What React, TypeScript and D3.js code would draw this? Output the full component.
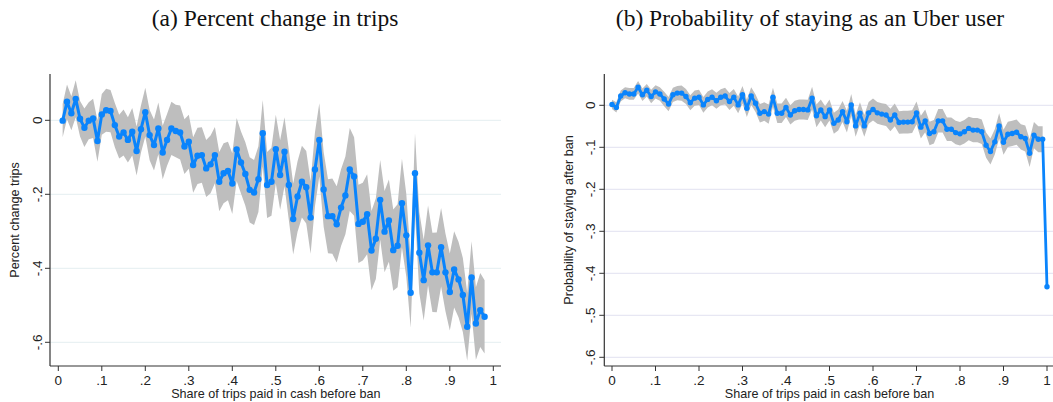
import React from "react";
import * as d3 from "d3";

// ---------- Panel (a): percent change in trips ----------
const tripsX: number[] = Array.from({ length: 98 }, (_, i) => +((i + 1) / 100).toFixed(2));
const tripsEst: number[] = [
  -0.001, 0.050, 0.019, 0.058, 0.004, -0.020, -0.001, 0.005, -0.056, 0.016,
  0.027, 0.025, -0.013, -0.044, -0.033, -0.053, -0.031, -0.083, -0.024, 0.022,
  -0.040, -0.067, -0.022, -0.087, -0.053, -0.022, -0.029, -0.033, -0.071, -0.058,
  -0.121, -0.096, -0.094, -0.130, -0.119, -0.094, -0.166, -0.143, -0.137, -0.171,
  -0.079, -0.114, -0.145, -0.188, -0.195, -0.159, -0.035, -0.175, -0.166, -0.078,
  -0.148, -0.085, -0.175, -0.267, -0.206, -0.166, -0.181, -0.263, -0.133, -0.053,
  -0.187, -0.259, -0.259, -0.281, -0.236, -0.203, -0.133, -0.152, -0.280, -0.274,
  -0.254, -0.352, -0.320, -0.215, -0.301, -0.271, -0.351, -0.339, -0.224, -0.311,
  -0.466, -0.143, -0.358, -0.432, -0.338, -0.411, -0.411, -0.343, -0.411, -0.464,
  -0.403, -0.430, -0.472, -0.558, -0.425, -0.549, -0.513, -0.531,
];
const tripsHalfWidth: number[] = [
  0.045, 0.047, 0.046, 0.050, 0.048, 0.052, 0.050, 0.053, 0.056, 0.055,
  0.058, 0.057, 0.060, 0.059, 0.062, 0.061, 0.064, 0.066, 0.064, 0.066,
  0.068, 0.069, 0.070, 0.072, 0.070, 0.072, 0.071, 0.073, 0.074, 0.073,
  0.075, 0.076, 0.075, 0.077, 0.078, 0.076, 0.080, 0.081, 0.079, 0.082,
  0.085, 0.084, 0.086, 0.088, 0.088, 0.089, 0.090, 0.089, 0.092, 0.093,
  0.094, 0.093, 0.095, 0.096, 0.095, 0.097, 0.098, 0.098, 0.100, 0.099,
  0.101, 0.100, 0.102, 0.103, 0.104, 0.105, 0.112, 0.106, 0.106, 0.105,
  0.108, 0.107, 0.109, 0.108, 0.110, 0.111, 0.110, 0.112, 0.120, 0.112,
  0.095, 0.108, 0.110, 0.109, 0.108, 0.107, 0.108, 0.106, 0.105, 0.104,
  0.103, 0.102, 0.100, 0.092, 0.098, 0.098, 0.100, 0.099,
];

// ---------- Panel (b): probability of staying ----------
const stayX: number[] = [
  ...Array.from({ length: 100 }, (_, i) => +(i / 100).toFixed(2)),
  1.0,
];
const stayEst: number[] = [
  0.002, -0.005, 0.022, 0.030, 0.027, 0.027, 0.043, 0.025, 0.036, 0.021,
  0.032, 0.027, 0.015, 0.003, 0.025, 0.029, 0.029, 0.021, 0.006, 0.017,
  0.019, 0.001, 0.014, 0.019, 0.011, 0.019, 0.022, 0.009, 0.019, 0.001,
  0.025, -0.007, 0.022, 0.005, -0.019, -0.015, -0.021, 0.019, -0.019, -0.019,
  -0.005, -0.023, -0.013, -0.010, -0.010, -0.011, 0.017, -0.025, -0.011, -0.027,
  -0.011, -0.043, -0.035, -0.015, -0.039, 0.001, -0.049, -0.019, -0.049, -0.018,
  -0.010, -0.018, -0.021, -0.023, -0.035, -0.023, -0.041, -0.040, -0.040, -0.039,
  -0.018, -0.052, -0.037, -0.067, -0.063, -0.037, -0.037, -0.057, -0.057, -0.065,
  -0.068, -0.063, -0.055, -0.059, -0.059, -0.063, -0.095, -0.110, -0.087, -0.049,
  -0.088, -0.069, -0.067, -0.064, -0.075, -0.079, -0.114, -0.071, -0.081, -0.081,
  -0.432,
];
const stayHalfWidth: number[] = [
  0.011, 0.012, 0.013, 0.013, 0.014, 0.014, 0.015, 0.015, 0.015, 0.016,
  0.016, 0.016, 0.017, 0.017, 0.017, 0.017, 0.018, 0.018, 0.018, 0.018,
  0.018, 0.019, 0.019, 0.019, 0.019, 0.019, 0.020, 0.020, 0.020, 0.020,
  0.021, 0.021, 0.021, 0.021, 0.022, 0.022, 0.023, 0.023, 0.023, 0.023,
  0.023, 0.023, 0.024, 0.024, 0.024, 0.024, 0.027, 0.027, 0.025, 0.025,
  0.025, 0.025, 0.025, 0.025, 0.026, 0.026, 0.026, 0.026, 0.026, 0.026,
  0.026, 0.026, 0.026, 0.026, 0.027, 0.027, 0.027, 0.027, 0.027, 0.027,
  0.027, 0.027, 0.027, 0.028, 0.028, 0.028, 0.028, 0.028, 0.028, 0.028,
  0.028, 0.028, 0.028, 0.029, 0.029, 0.029, 0.030, 0.031, 0.030, 0.030,
  0.030, 0.030, 0.030, 0.030, 0.030, 0.031, 0.033, 0.031, 0.031, 0.031,
];

const xTicks: number[] = [0, 0.1, 0.2, 0.3, 0.4, 0.5, 0.6, 0.7, 0.8, 0.9, 1];
const xTickLabels: string[] = ["0", ".1", ".2", ".3", ".4", ".5", ".6", ".7", ".8", ".9", "1"];
const tripsYTicks: number[] = [0, -0.2, -0.4, -0.6];
const tripsYTickLabels: string[] = ["0", "-.2", "-.4", "-.6"];
const stayYTicks: number[] = [0, -0.1, -0.2, -0.3, -0.4, -0.5, -0.6];
const stayYTickLabels: string[] = ["0", "-.1", "-.2", "-.3", "-.4", "-.5", "-.6"];

const BLUE = "#0a84fc";
const BAND = "#bebebe";
const SANS = "'Liberation Sans', Arial, Helvetica, sans-serif";
const SERIF = "'Liberation Serif', 'Times New Roman', serif";

type PanelProps = {
  title: string;
  titleX: number;
  yLabel: string;
  xs: number[];
  est: number[];
  hw: number[];
  yTicks: number[];
  yTickLabels: string[];
  axisX: number;
  axisRight: number;
  xRange: [number, number];
  yRange: [number, number];
  yLabelX: number;
  tickLabelX: number;
  gridColor: string;
  r: number;
  lw: number;
};

function Panel(p: PanelProps) {
  const x = d3.scaleLinear().domain([0, 1]).range(p.xRange);
  const y = d3.scaleLinear().domain([0, -0.6]).range(p.yRange);
  const axisTop = 74;
  const axisBottom = 366;
  const bandData = p.hw.map((h, i) => ({ x: p.xs[i], lo: p.est[i] - h, hi: p.est[i] + h }));
  const area = d3
    .area<{ x: number; lo: number; hi: number }>()
    .x((d) => x(d.x))
    .y0((d) => y(d.lo))
    .y1((d) => y(d.hi));
  const pts = p.xs.map((v, i) => ({ x: v, y: p.est[i] }));
  const line = d3
    .line<{ x: number; y: number }>()
    .x((d) => x(d.x))
    .y((d) => y(d.y));
  const xMid = (x(0) + x(1)) / 2;
  return (
    <g>
      <text x={p.titleX} y={26} textAnchor="middle" fontFamily={SERIF} fontSize={23.5} fill="#111">
        {p.title}
      </text>
      {p.yTicks.map((t) => (
        <line key={"g" + t} x1={p.axisX} x2={p.axisRight} y1={y(t)} y2={y(t)} stroke={p.gridColor} strokeWidth={1} />
      ))}
      <path d={area(bandData) || ""} fill={BAND} />
      <path d={line(pts) || ""} fill="none" stroke={BLUE} strokeWidth={p.lw} strokeLinejoin="round" />
      {pts.map((d, i) => (
        <circle key={i} cx={x(d.x)} cy={y(d.y)} r={p.r} fill={BLUE} />
      ))}
      <line x1={p.axisX} x2={p.axisX} y1={axisTop} y2={axisBottom} stroke="#333" strokeWidth={1.2} />
      <line x1={p.axisX} x2={p.axisRight} y1={axisBottom} y2={axisBottom} stroke="#333" strokeWidth={1.2} />
      {p.yTicks.map((t, i) => (
        <g key={"yt" + t}>
          <line x1={p.axisX - 5} x2={p.axisX} y1={y(t)} y2={y(t)} stroke="#333" strokeWidth={1} />
          <text
            transform={`translate(${p.tickLabelX},${y(t)}) rotate(-90)`}
            textAnchor="middle"
            dominantBaseline="central"
            fontFamily={SANS}
            fontSize={13.5}
            fill="#222"
          >
            {p.yTickLabels[i]}
          </text>
        </g>
      ))}
      {xTicks.map((t, i) => (
        <g key={"xt" + t}>
          <line x1={x(t)} x2={x(t)} y1={axisBottom} y2={axisBottom + 5} stroke="#333" strokeWidth={1} />
          <text x={x(t)} y={385} textAnchor="middle" fontFamily={SANS} fontSize={13.5} fill="#222">
            {xTickLabels[i]}
          </text>
        </g>
      ))}
      <text x={xMid} y={398} textAnchor="middle" fontFamily={SANS} fontSize={12.6} fill="#222">
        Share of trips paid in cash before ban
      </text>
      <text
        transform={`translate(${p.yLabelX},${(axisTop + axisBottom) / 2}) rotate(-90)`}
        textAnchor="middle"
        dominantBaseline="central"
        fontFamily={SANS}
        fontSize={12.6}
        fill="#222"
      >
        {p.yLabel}
      </text>
    </g>
  );
}

export default function App() {
  return (
    <svg
      width={1053}
      height={402}
      style={{ position: "absolute", left: 0, top: 0, background: "#fff" }}
    >
      <rect x={0} y={0} width={1053} height={402} fill="#fff" />
      <Panel
        title="(a) Percent change in trips"
        titleX={275}
        yLabel="Percent change trips"
        xs={tripsX}
        est={tripsEst}
        hw={tripsHalfWidth}
        yTicks={tripsYTicks}
        yTickLabels={tripsYTickLabels}
        axisX={50}
        axisRight={501}
        xRange={[58.3, 493.3]}
        yRange={[120.3, 342.3]}
        yLabelX={15}
        tickLabelX={37}
        gridColor="#e4eef0"
        r={3.2}
        lw={3}
      />
      <Panel
        title="(b) Probability of staying as an Uber user"
        titleX={810}
        yLabel="Probability of staying after ban"
        xs={stayX}
        est={stayEst}
        hw={stayHalfWidth}
        yTicks={stayYTicks}
        yTickLabels={stayYTickLabels}
        axisX={604.3}
        axisRight={1053}
        xRange={[612, 1047]}
        yRange={[105.3, 357.3]}
        yLabelX={569}
        tickLabelX={590}
        gridColor="#e2e2f0"
        r={2.7}
        lw={2.8}
      />
    </svg>
  );
}
